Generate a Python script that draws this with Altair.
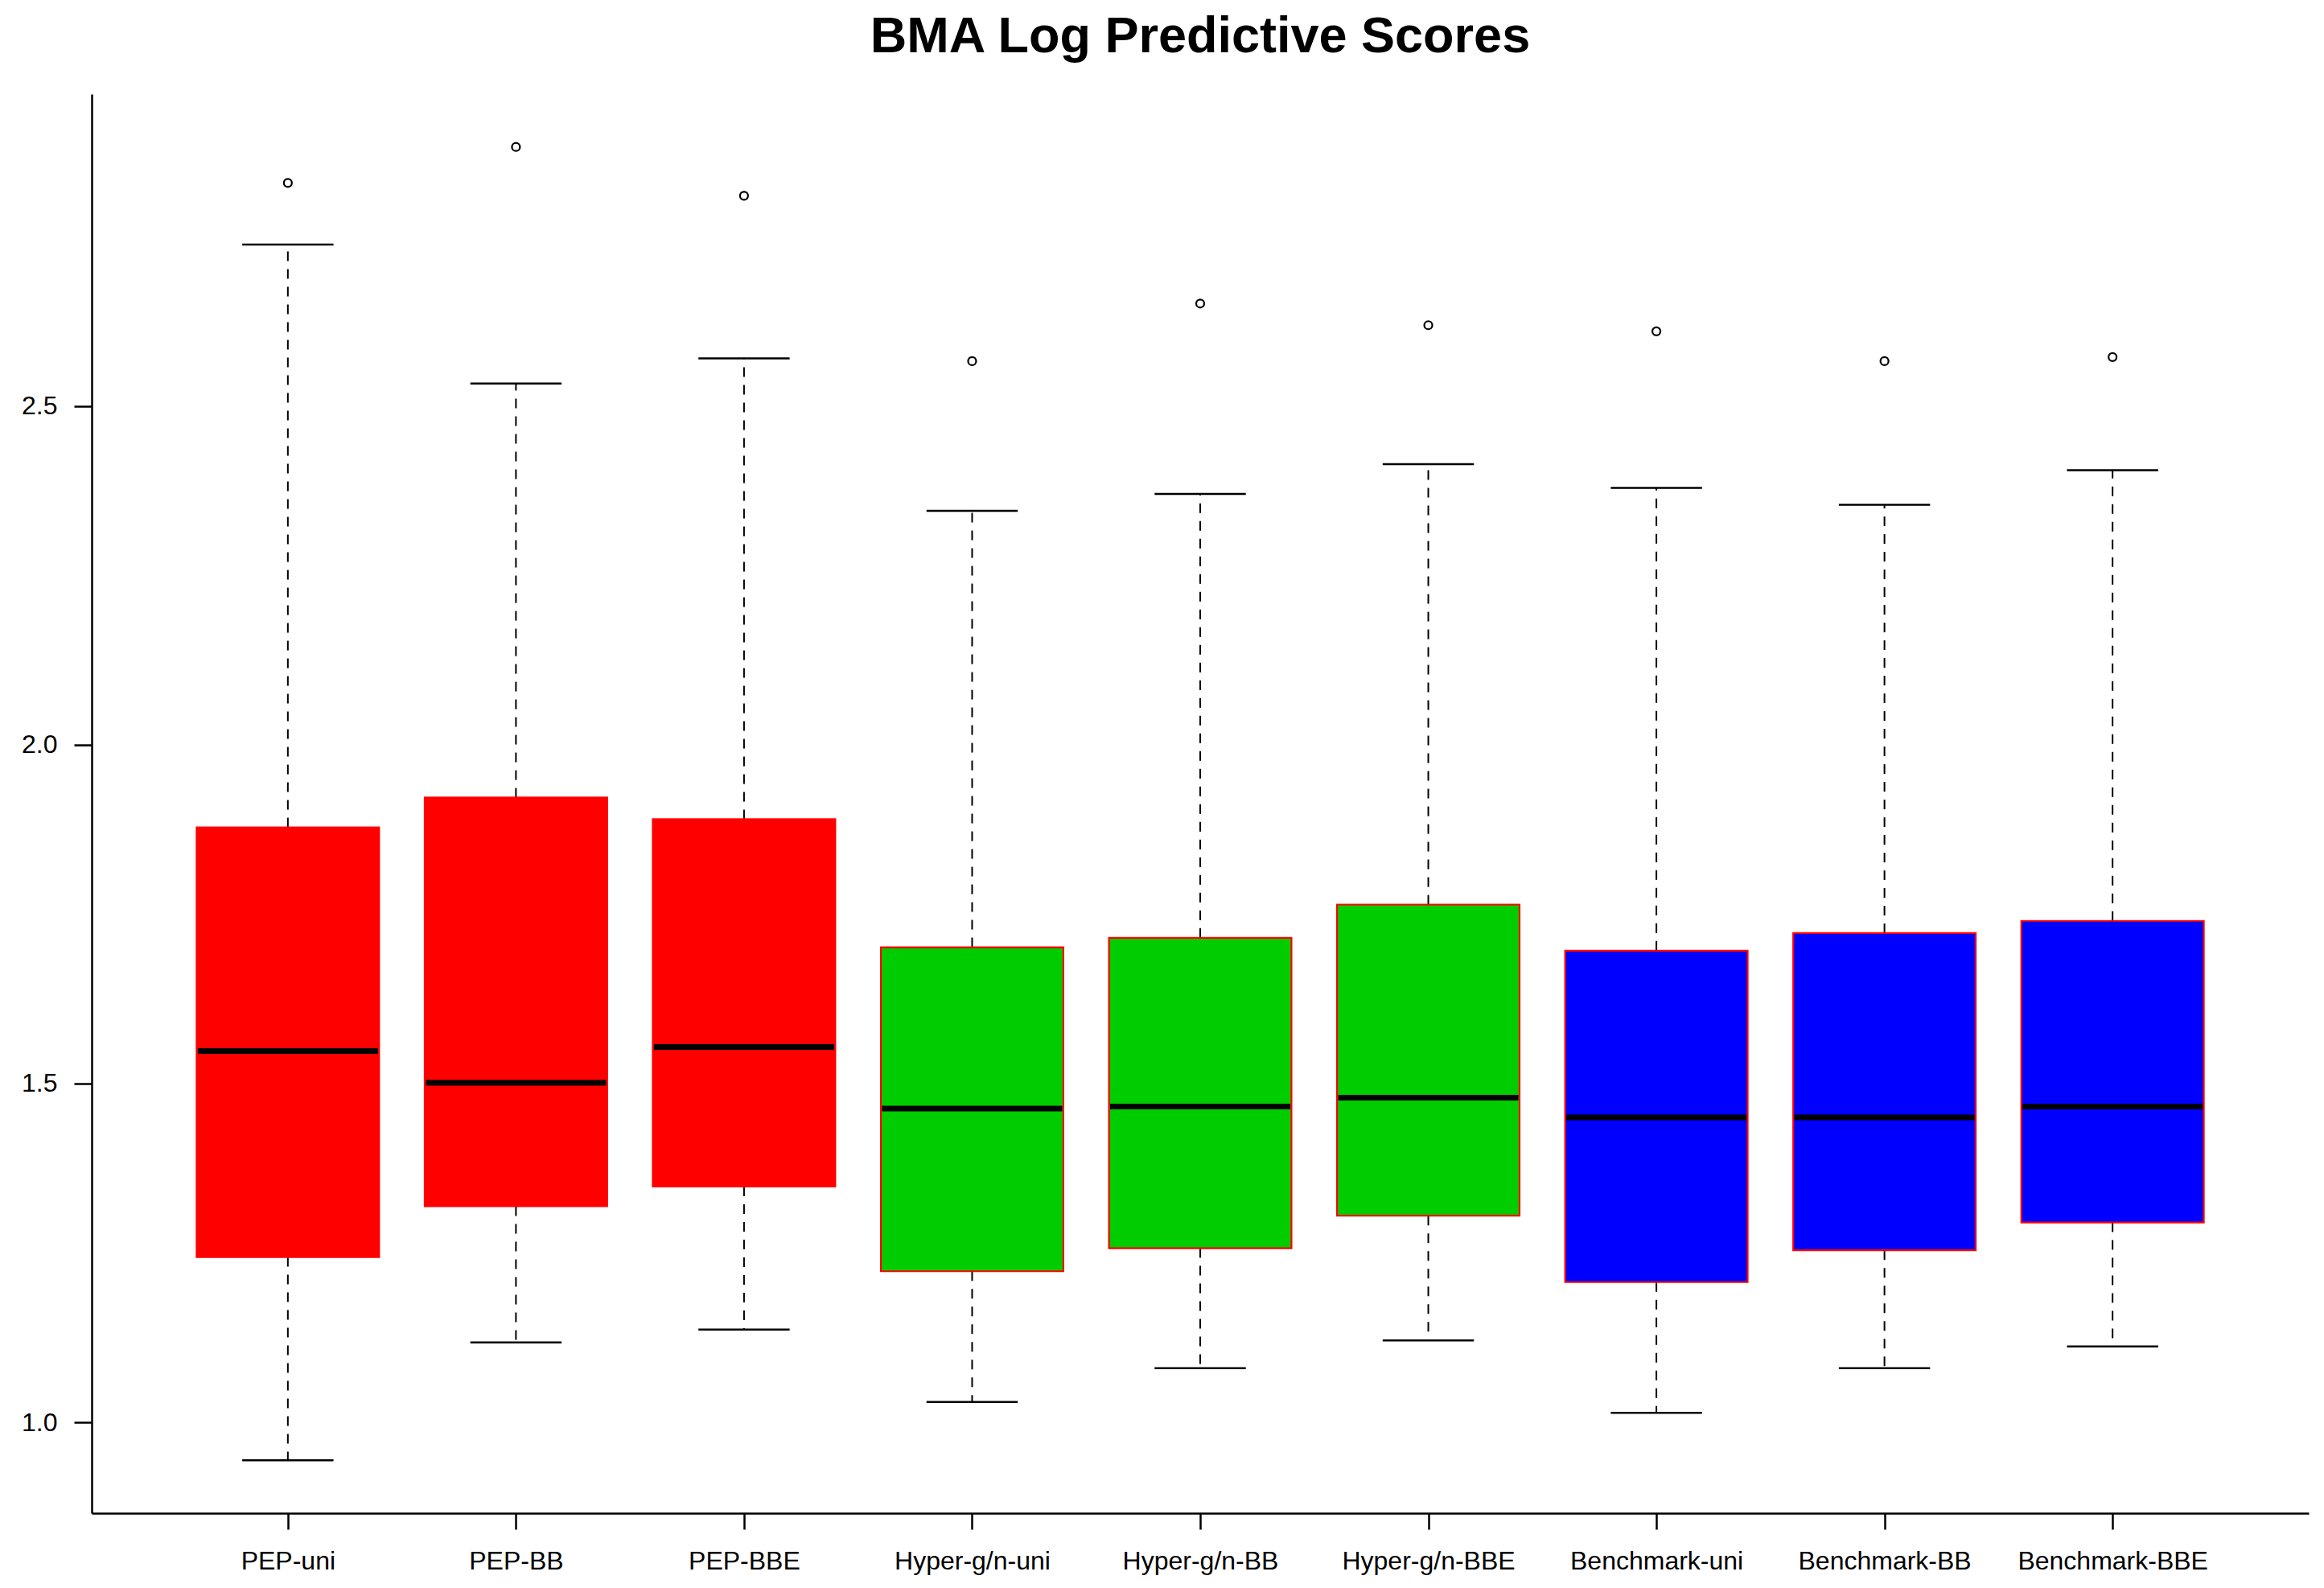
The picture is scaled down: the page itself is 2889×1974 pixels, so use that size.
import json
import altair as alt
import pandas as pd

# ---- data ----
names = ["PEP-uni", "PEP-BB", "PEP-BBE",
         "Hyper-g/n-uni", "Hyper-g/n-BB", "Hyper-g/n-BBE",
         "Benchmark-uni", "Benchmark-BB", "Benchmark-BBE"]
positions = [1, 2, 3, 4, 5, 6, 7, 8, 9]
fills = ["#FF0000", "#FF0000", "#FF0000",
         "#00CD00", "#00CD00", "#00CD00",
         "#0000FF", "#0000FF", "#0000FF"]
lower = [0.944, 1.118, 1.137, 1.030, 1.080, 1.121, 1.014, 1.080, 1.112]
q1 = [1.244, 1.319, 1.348, 1.223, 1.257, 1.305, 1.207, 1.254, 1.295]
median = [1.548, 1.501, 1.554, 1.463, 1.466, 1.479, 1.450, 1.450, 1.466]
q3 = [1.878, 1.922, 1.890, 1.701, 1.715, 1.764, 1.696, 1.722, 1.740]
upper = [2.738, 2.533, 2.570, 2.345, 2.370, 2.414, 2.379, 2.354, 2.405]
outliers = [2.829, 2.882, 2.810, 2.566, 2.651, 2.619, 2.610, 2.566, 2.572]
y_ticks = [1.0, 1.5, 2.0, 2.5]

df = pd.DataFrame({
    "name": names, "pos": positions, "fill": fills,
    "lo": lower, "q1": q1, "med": median, "q3": q3, "hi": upper,
    "out": outliers,
})

FONT = "Liberation Sans"
label_expr = json.dumps(names) + "[datum.value - 1]"

xscale = alt.Scale(domain=[0.14, 9.86], nice=False, zero=False)
yscale = alt.Scale(domain=[0.866, 2.96], nice=False, zero=False)

x_axis = alt.Axis(values=positions, labelExpr=label_expr, title=None, grid=False,
                  tickSize=20, labelPadding=24, labelFontSize=32, labelFont=FONT,
                  labelColor="black", domainColor="black", domainWidth=2.5,
                  tickColor="black", tickWidth=2.5, labelAngle=0, labelLimit=0,
                  labelOverlap=False)
y_axis = alt.Axis(values=y_ticks, format=".1f", title=None, grid=False,
                  tickSize=22, labelPadding=21, labelFontSize=32, labelFont=FONT,
                  labelColor="black", domainColor="black", domainWidth=2.5,
                  tickColor="black", tickWidth=2.5, labelLimit=0)

base = alt.Chart(df).transform_calculate(
    bl="datum.pos - 0.4", br="datum.pos + 0.4",
    ml="datum.pos - 0.395", mr="datum.pos + 0.395",
    cl="datum.pos - 0.2", cr="datum.pos + 0.2",
)

upper_whisker = base.mark_rule(color="black", strokeWidth=2, strokeDash=[12, 10]).encode(
    x=alt.X("pos:Q", scale=xscale, axis=x_axis),
    y=alt.Y("q3:Q", scale=yscale, axis=y_axis),
    y2="hi:Q",
)
lower_whisker = base.mark_rule(color="black", strokeWidth=2, strokeDash=[12, 10]).encode(
    x=alt.X("pos:Q", scale=xscale),
    y=alt.Y("q1:Q", scale=yscale),
    y2="lo:Q",
)
upper_cap = base.mark_rule(color="black", strokeWidth=2.5).encode(
    x=alt.X("cl:Q", scale=xscale), x2="cr:Q",
    y=alt.Y("hi:Q", scale=yscale),
)
lower_cap = base.mark_rule(color="black", strokeWidth=2.5).encode(
    x=alt.X("cl:Q", scale=xscale), x2="cr:Q",
    y=alt.Y("lo:Q", scale=yscale),
)
boxes = base.mark_rect(stroke="#FF0000", strokeWidth=2.2).encode(
    x=alt.X("bl:Q", scale=xscale), x2="br:Q",
    y=alt.Y("q1:Q", scale=yscale), y2="q3:Q",
    fill=alt.Fill("fill:N", scale=None),
)
medians = base.mark_rule(color="black", strokeWidth=7).encode(
    x=alt.X("ml:Q", scale=xscale), x2="mr:Q",
    y=alt.Y("med:Q", scale=yscale),
)
points = base.mark_point(shape="circle", filled=False, color="black",
                         strokeWidth=2.2, size=100, opacity=1).encode(
    x=alt.X("pos:Q", scale=xscale),
    y=alt.Y("out:Q", scale=yscale),
)

chart = alt.layer(
    upper_whisker, lower_whisker, upper_cap, lower_cap, boxes, medians, points
).properties(
    width=2756,
    height=1764,
    background="white",
    title=alt.TitleParams("BMA Log Predictive Scores", font=FONT, fontSize=63,
                          fontWeight="bold", color="black", anchor="middle", offset=39),
    autosize=alt.AutoSizeParams(type="none"),
    padding={"left": 106, "top": 109, "right": 10, "bottom": 80},
).configure_view(strokeWidth=0, stroke="transparent")

chart.save("out.html", embed_options={"renderer": "svg", "actions": False})
